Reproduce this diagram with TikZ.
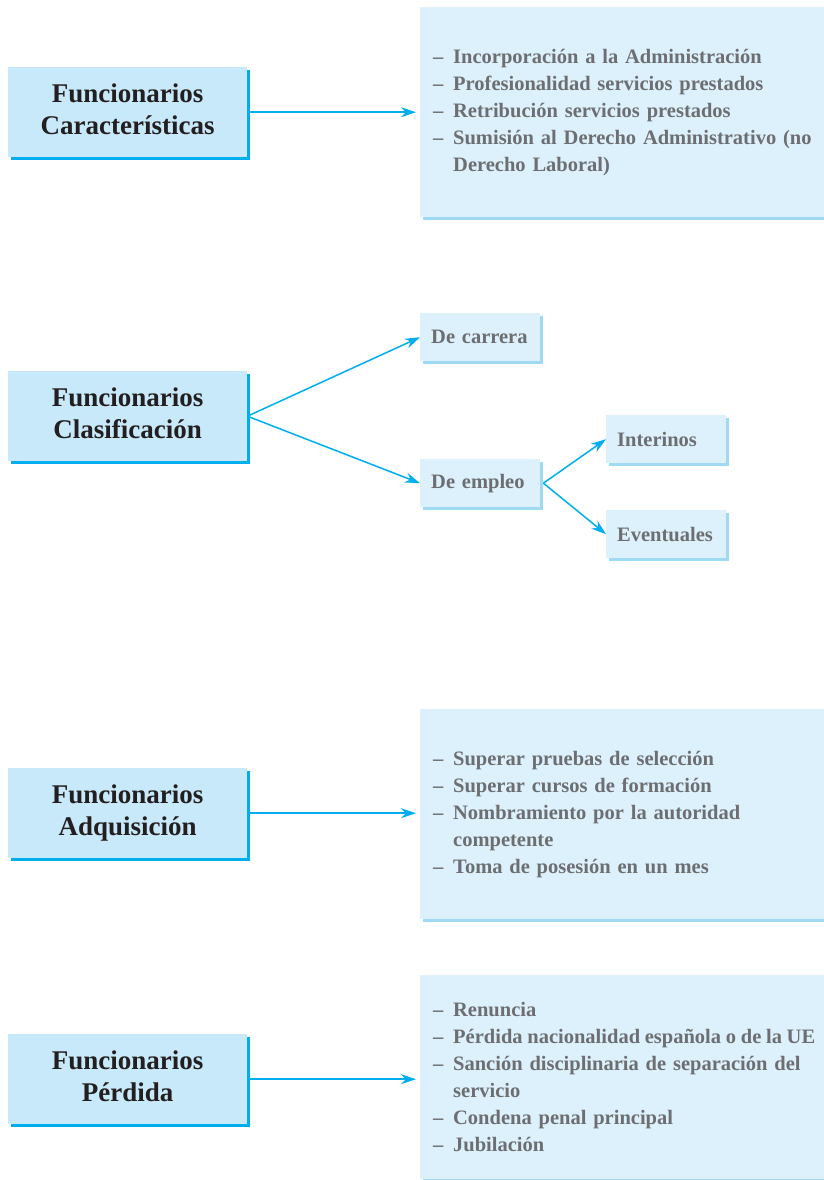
\documentclass[tikz,border=0pt]{standalone}
\usepackage{fontspec}
\setmainfont{Liberation Serif}
\usetikzlibrary{arrows.meta,shadows}
\definecolor{azulfuerte}{HTML}{00AEEF}
\definecolor{azulclaro}{HTML}{C8E9F9}
\definecolor{azulpalido}{HTML}{DCF1FB}
\definecolor{azulsombra}{HTML}{9FDAF5}
\definecolor{textogris}{HTML}{6D6E71}
\definecolor{textonegro}{HTML}{231F20}
\newcommand{\guion}{\makebox[20pt][l]{--}}
\newcommand{\sangria}{\hspace*{20pt}}

\begin{document}
\begin{tikzpicture}[x=1pt, y=-1pt,
    titulo/.style = {fill=azulclaro, minimum width=239pt, minimum height=90pt, inner sep=0pt,
      align=center, text=textonegro, font=\bfseries\fontsize{27}{32}\selectfont, text depth=7pt,
      general shadow={fill=azulfuerte, shadow xshift=3pt, shadow yshift=-2.5pt}},
    lista/.style = {fill=azulpalido, minimum height=210pt, text width=395pt, inner xsep=13pt,
      align=left, text=textogris, font=\bfseries\fontsize{20.5}{27}\selectfont,
      general shadow={fill=azulsombra, shadow xshift=3pt, shadow yshift=-2.5pt}},
    caja/.style = {fill=azulpalido, minimum height=48pt, text width=98pt, inner xsep=11pt,
      align=left, text=textogris, font=\bfseries\fontsize{20.5}{24}\selectfont,
      general shadow={fill=azulsombra, shadow xshift=3pt, shadow yshift=-2.5pt}},
    flecha/.style = {draw=azulfuerte, line width=1.5pt, -{Stealth[length=15pt, width=10pt]}}]
  \useasboundingbox (0,0) rectangle (824,1180);

  % caracteristicas
  \node[titulo, anchor=north west] (caract) at (8,67) {Funcionarios\\Características};
  \node[lista, anchor=north west] (caractlista) at (420,7) {%
    \guion Incorporación a la Administración\\
    \guion Profesionalidad servicios prestados\\
    \guion Retribución servicios prestados\\
    \guion Sumisión al Derecho Administrativo (no\\
    \sangria Derecho Laboral)};
  \draw[flecha, shorten >=4pt] (caract.east) -- (caract.east -| caractlista.west);

  % clasificacion
  \node[titulo, anchor=north west] (clasif) at (8,371) {Funcionarios\\Clasificación};
  \node[caja, anchor=north west] (carrera) at (420,313) {De carrera};
  \node[caja, anchor=north west] (empleo) at (420,459) {De empleo};
  \node[caja, anchor=north west] (interinos) at (606,415) {Interinos};
  \node[caja, anchor=north west] (eventuales) at (606,510) {Eventuales};
  \draw[flecha] (clasif.east) -- (carrera.west);
  \draw[flecha] (clasif.east) -- (empleo.west);
  \draw[flecha] ([xshift=3pt]empleo.east) -- (interinos.west);
  \draw[flecha] ([xshift=3pt]empleo.east) -- (eventuales.west);

  % adquisicion
  \node[titulo, anchor=north west] (adquis) at (8,768) {Funcionarios\\Adquisición};
  \node[lista, anchor=north west] (adquislista) at (420,709) {%
    \guion Superar pruebas de selección\\
    \guion Superar cursos de formación\\
    \guion Nombramiento por la autoridad\\
    \sangria competente\\
    \guion Toma de posesión en un mes};
  \draw[flecha, shorten >=4pt] (adquis.east) -- (adquis.east -| adquislista.west);

  % perdida
  \node[titulo, anchor=north west] (perdida) at (8,1034) {Funcionarios\\Pérdida};
  \node[lista, anchor=north west, minimum height=204pt] (perdidalista) at (420,975) {%
    \guion Renuncia\\
    \guion \makebox[362pt][s]{\spaceskip=2.6pt plus 2pt minus 1pt\relax Pérdida nacionalidad española o de la UE}\\
    \guion Sanción disciplinaria de separación del\\
    \sangria servicio\\
    \guion Condena penal principal\\
    \guion Jubilación};
  \draw[flecha, shorten >=4pt] (perdida.east) -- (perdida.east -| perdidalista.west);
\end{tikzpicture}
\end{document}
